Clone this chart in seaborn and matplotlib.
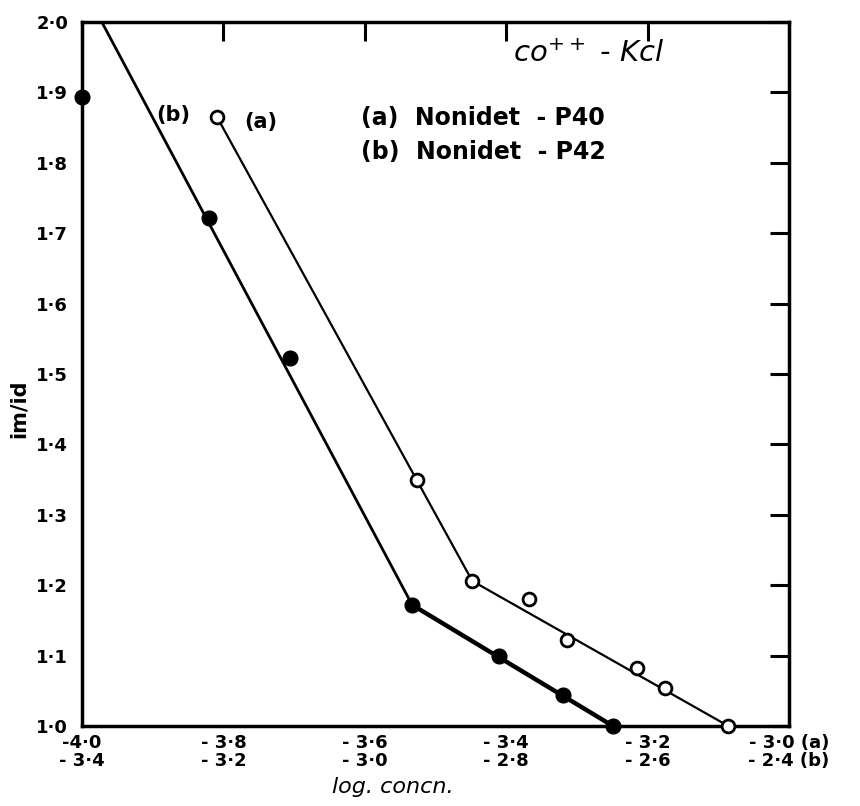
import matplotlib
matplotlib.use("Agg")
import matplotlib.pyplot as plt
import matplotlib.transforms as mtransforms
import seaborn as sns
import pandas as pd

# ---- data ----
# series (a) Nonidet-P40, x on upper scale (a)
a_x = [-3.809, -3.526, -3.448, -3.368, -3.314, -3.215, -3.175, -3.086]
a_y = [1.865, 1.349, 1.206, 1.180, 1.122, 1.082, 1.054, 1.000]
a_line_x = [-3.809, -3.448, -3.086]
a_line_y = [1.865, 1.206, 1.000]

# series (b) Nonidet-P42, x on lower scale (b)
b_x = [-3.40, -3.220, -3.106, -2.933, -2.810, -2.720, -2.649]
b_y = [1.893, 1.722, 1.523, 1.172, 1.100, 1.044, 1.000]
b_line1_x = [-3.372, -2.933]
b_line1_y = [2.000, 1.172]
b_line2_x = [-2.933, -2.649]
b_line2_y = [1.172, 1.000]
b_offset = 0.6  # scale (b) = scale (a) + 0.6

xa_ticks = [-4.0, -3.8, -3.6, -3.4, -3.2, -3.0]
xa_labels = ["-4·0", "- 3·8", "- 3·6", "- 3·4", "- 3·2", "- 3·0 (a)"]
xb_labels = ["- 3·4", "- 3·2", "- 3·0", "- 2·8", "- 2·6", "- 2·4 (b)"]
y_ticks = [1.0, 1.1, 1.2, 1.3, 1.4, 1.5, 1.6, 1.7, 1.8, 1.9, 2.0]
y_labels = ["1·0", "1·1", "1·2", "1·3", "1·4", "1·5", "1·6", "1·7", "1·8", "1·9", "2·0"]

# ---- plot ----
sns.set_theme(style="white")
plt.rcParams["font.family"] = ["DejaVu Sans"]
plt.rcParams["text.color"] = "black"
plt.rcParams["axes.labelcolor"] = "black"
plt.rcParams["xtick.color"] = "black"
plt.rcParams["ytick.color"] = "black"

fig = plt.figure(figsize=(8.6, 8.06), dpi=100)
ax = fig.add_axes([82/860, 1 - 726/806, (789-82)/860, (726-22)/806])

dfa = pd.DataFrame({"x": a_x, "y": a_y})
dfb = pd.DataFrame({"x": [v - b_offset for v in b_x], "y": b_y})

sns.lineplot(x=a_line_x, y=a_line_y, sort=False, color="black", lw=1.6, ax=ax)
sns.lineplot(x=[v - b_offset for v in b_line1_x], y=b_line1_y, sort=False,
             color="black", lw=2.0, ax=ax)
sns.lineplot(x=[v - b_offset for v in b_line2_x], y=b_line2_y, sort=False,
             color="black", lw=3.2, ax=ax)

sns.scatterplot(data=dfa, x="x", y="y", s=85, facecolor="white",
                edgecolor="black", linewidth=2, ax=ax, clip_on=False, zorder=5)
sns.scatterplot(data=dfb, x="x", y="y", s=115, color="black",
                edgecolor="black", ax=ax, clip_on=False, zorder=5)

ax.set_xlim(-4.0, -3.0)
ax.set_ylim(1.0, 2.0)

ax.set_xticks(xa_ticks)
ax.set_xticklabels([f"{a}\n{b}" for a, b in zip(xa_labels, xb_labels)],
                   fontsize=13, fontweight="bold", linespacing=1.0)
ax.set_yticks(y_ticks)
ax.set_yticklabels(y_labels, fontsize=13, fontweight="bold")

lbls = ax.get_xticklabels()
off = mtransforms.ScaledTranslation(0.26, 0, fig.dpi_scale_trans)
lbls[-1].set_transform(lbls[-1].get_transform() + off)

ax.tick_params(axis="both", direction="in", length=14, width=2.2,
               top=True, right=True, pad=10, colors="black")
ax.tick_params(axis="x", pad=6)
for s in ax.spines.values():
    s.set_linewidth(2.5)
    s.set_color("black")

ax.set_xlabel("log. concn.", fontsize=16, style="italic")
ax.xaxis.set_label_coords(0.44, -0.072)
ax.set_ylabel("im/id", fontsize=15, fontweight="bold")
ax.yaxis.set_label_coords(-0.075, 0.45)

ax.text(-3.39, 1.943, r"co$^{++}$ - Kcl", fontsize=21, style="italic")
ax.text(-3.605, 1.854, "(a)  Nonidet  - P40", fontsize=17, fontweight="bold")
ax.text(-3.605, 1.806, "(b)  Nonidet  - P42", fontsize=17, fontweight="bold")
ax.text(-3.895, 1.860, "(b)", fontsize=15, fontweight="bold")
ax.text(-3.77, 1.850, "(a)", fontsize=15, fontweight="bold")

fig.savefig("out.png", dpi=100, facecolor="white")
